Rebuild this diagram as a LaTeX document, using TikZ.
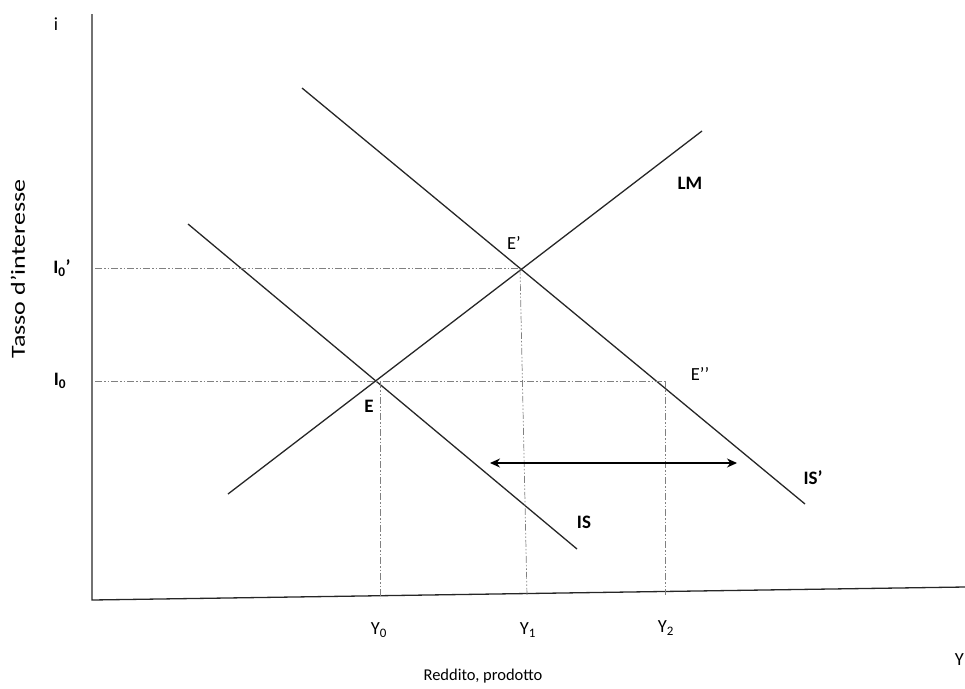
\documentclass[tikz,border=0pt]{standalone}
\usepackage{fontspec}
\setmainfont{Carlito}
\usetikzlibrary{arrows.meta}
\begin{document}
\begin{tikzpicture}[x=1pt,y=-1pt,
  curve/.style={line width=1.3pt,draw=black!85},
  axis/.style={line width=1.3pt,draw=black!85},
  guide/.style={line width=0.7pt,draw=black!50,dash pattern=on 7pt off 2pt on 1.5pt off 2pt on 1.5pt off 2pt},
  lbl/.style={font=\fontsize{18.5}{22}\selectfont,inner sep=0pt},
  blbl/.style={font=\fontsize{19}{22}\selectfont\bfseries,inner sep=0pt}]
\useasboundingbox (0,0) rectangle (965,688);
% axes
\coordinate (O) at (92,600);
\coordinate (ytop) at (92,14);
\coordinate (xend) at (965,587);
\draw[axis] (ytop) -- (O) -- (xend);
% curves
\coordinate (LMa) at (228,494); \coordinate (LMb) at (702,131);
\coordinate (ISa) at (188,224); \coordinate (ISb) at (577,549);
\coordinate (ISpa) at (302,88); \coordinate (ISpb) at (805,504);
\draw[curve] (LMa) -- (LMb);
\draw[curve] (ISa) -- (ISb);
\draw[curve] (ISpa) -- (ISpb);
% equilibrium points
\coordinate (E) at (378,381);
\coordinate (Ep) at (520,268);
\coordinate (Epp) at (665,381);
\coordinate (I0) at (95,381);
\coordinate (I0p) at (95,268);
\coordinate (Y0) at (380,598);
\coordinate (Y1) at (527,596);
\coordinate (Y2) at (665,595);
\draw[guide] (I0p) -- (Ep);
\draw[guide] (I0) -- (Epp);
\draw[guide] (380,381) -- (Y0);
\draw[guide] (Ep) -- (Y1);
\draw[guide] (Epp) -- (Y2);
% arrow
\coordinate (Aa) at (490,463); \coordinate (Ab) at (737,463);
\draw[line width=1.2pt,{Stealth[length=10pt,width=9pt]}-{Stealth[length=10pt,width=9pt]}] (Aa) -- (Ab);
% labels
\node[lbl] (li) at (56,24) {i};
\node[font=\fontsize{20}{24}\selectfont,inner sep=0pt,rotate=90,xscale=1.3] (ly) at (18,269) {Tasso d’interesse};
\node[blbl] (lI0p) at (62,268) {I$_{\mathbf{0}}$’};
\node[blbl] (lI0) at (60,381) {I$_{\mathbf{0}}$};
\node[blbl] (lE) at (369,406) {E};
\node[lbl] (lEp) at (514,243) {E’};
\node[lbl] (lEpp) at (700,374) {E’’};
\node[blbl] (lLM) at (690,183) {LM};
\node[blbl] (lIS) at (584,522) {IS};
\node[blbl] (lISp) at (813,478) {IS’};
\node[lbl] (lY0) at (379,630) {Y\textsubscript{0}};
\node[lbl] (lY1) at (528,630) {Y\textsubscript{1}};
\node[lbl] (lY2) at (666,628) {Y\textsubscript{2}};
\node[lbl,anchor=east] (lY) at (964,660) {Y};
\node[font=\fontsize{16.5}{19}\selectfont,inner sep=0pt] (lx) at (483,676) {Reddito, prodotto};
\end{tikzpicture}
\end{document}
